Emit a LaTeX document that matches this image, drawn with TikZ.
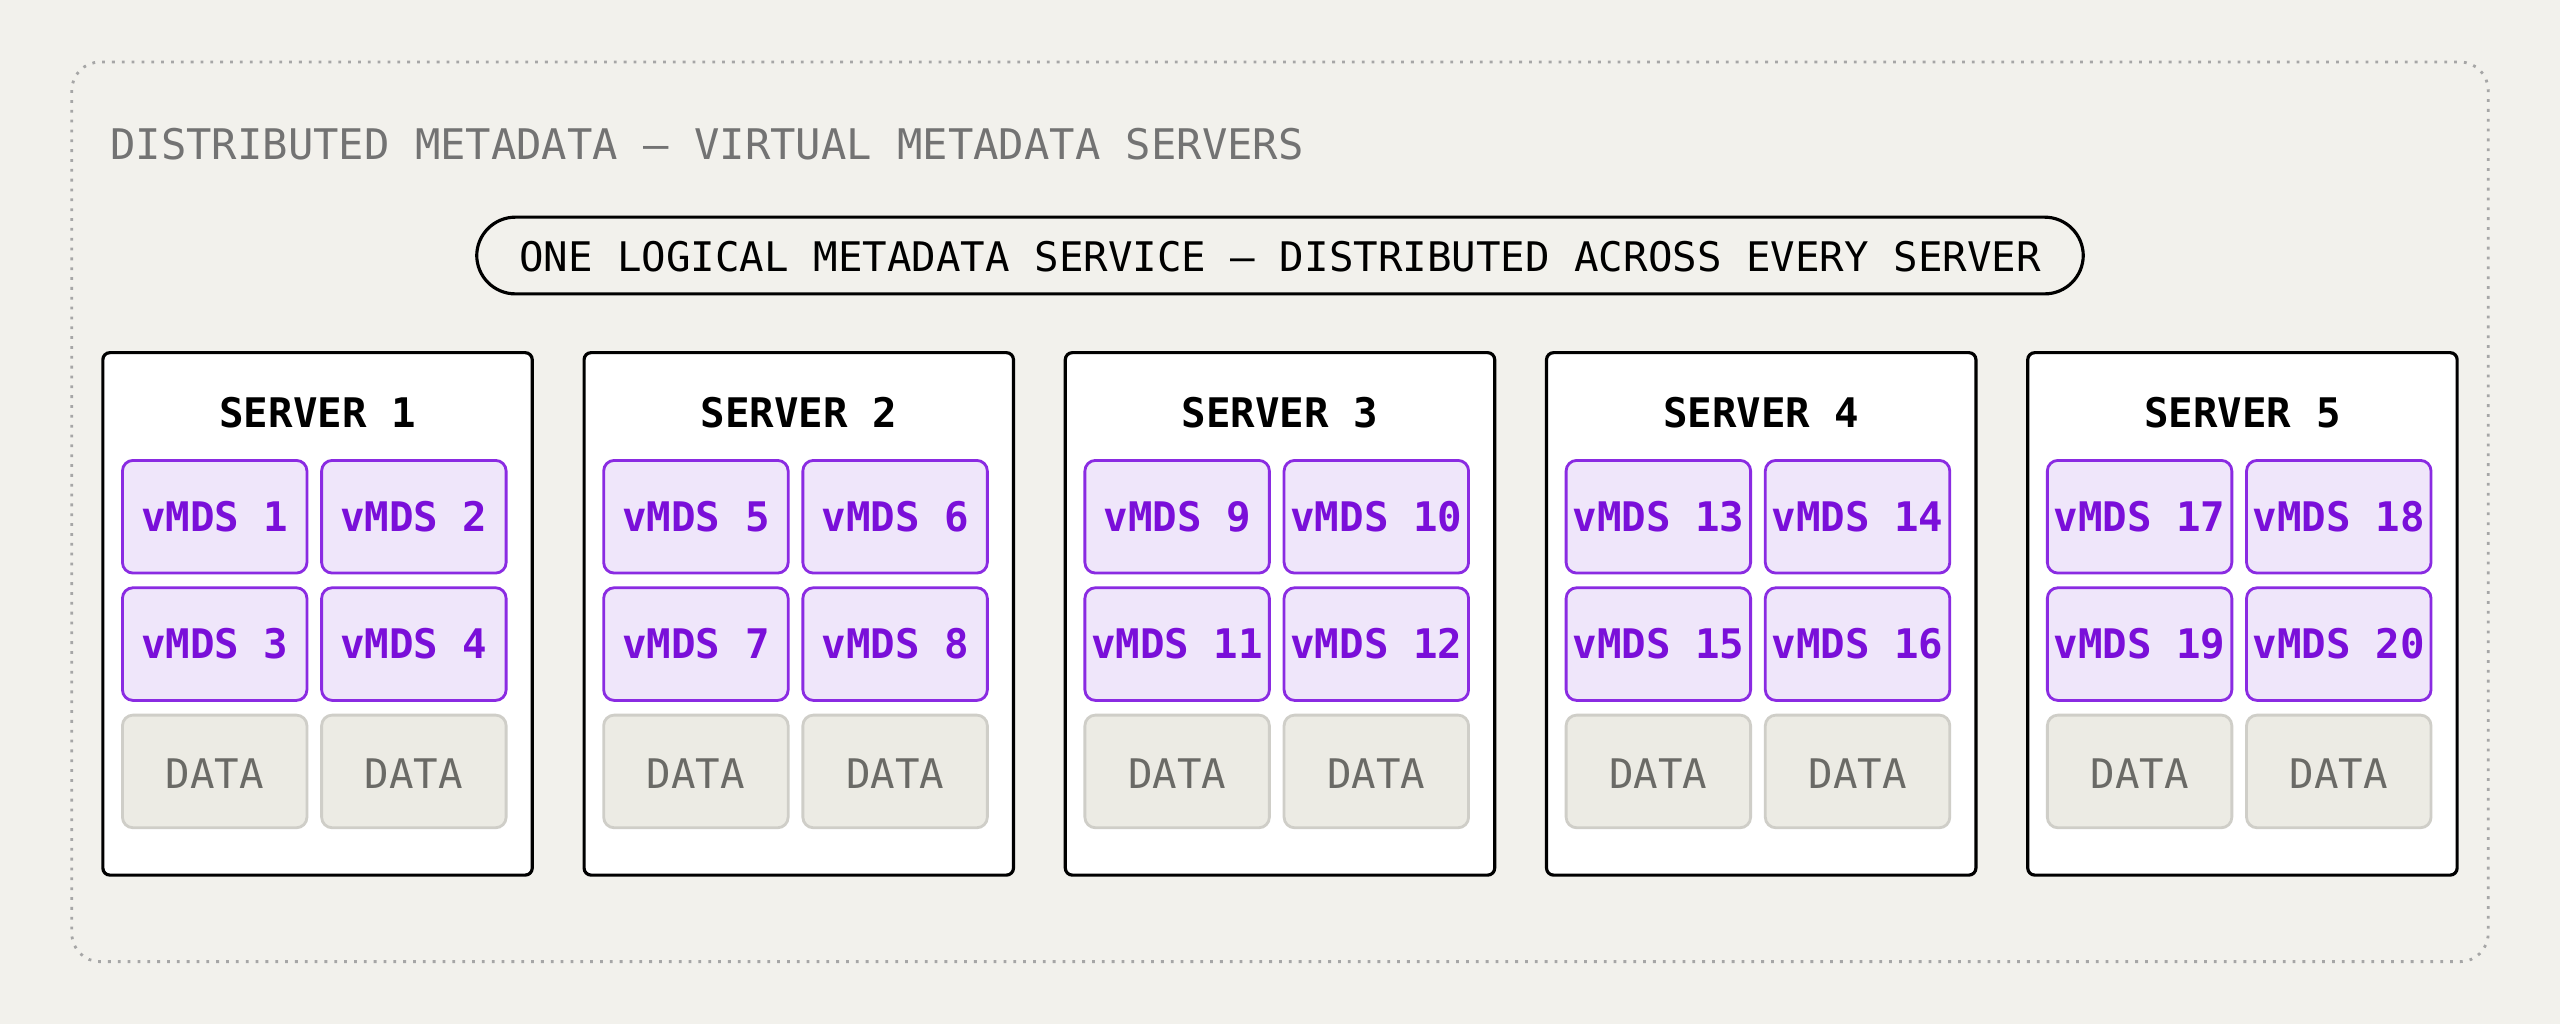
\documentclass[tikz,border=0pt]{standalone}
\usepackage{fontspec}
\setmonofont{DejaVu Sans Mono}
\definecolor{bgcol}{HTML}{F2F1EC}
\definecolor{vfill}{HTML}{EFE6FA}
\definecolor{vline}{HTML}{8A2BE2}
\definecolor{vtext}{HTML}{7A0FD9}
\definecolor{dfill}{HTML}{ECEBE4}
\definecolor{dline}{HTML}{CFCEC8}
\definecolor{dtext}{HTML}{6A6A66}
\tikzset{
  frame/.style={draw=black!35, dotted, line width=0.8pt, rounded corners=8pt},
  server/.style={draw=black, fill=white, line width=0.9pt, rounded corners=2pt},
  vmds/.style={draw=vline, fill=vfill, line width=0.8pt, rounded corners=3pt, text=vtext, font=\ttfamily\bfseries\fontsize{11.6}{13}\selectfont},
  data/.style={draw=dline, fill=dfill, line width=0.8pt, rounded corners=3pt, text=dtext, font=\ttfamily\fontsize{11.6}{13}\selectfont}
}
\begin{document}
\begin{tikzpicture}[x=0.01633cm, y=-0.01633cm]
  \fill[bgcol] (0,0) rectangle (1568,627);
  \useasboundingbox (0,0) rectangle (1568,627);

  %% Outer frame and titles
  \draw[frame] (44,38) rectangle (1524,589);
  \node[anchor=west, text=black!55, font=\ttfamily\fontsize{12}{14}\selectfont] (title) at (60,88) {DISTRIBUTED METADATA — VIRTUAL METADATA SERVERS};
  \draw[line width=0.9pt, rounded corners=11pt] (292,133) rectangle (1276,180);
  \node[font=\ttfamily\fontsize{11.6}{13}\selectfont] (service) at (784,157) {ONE LOGICAL METADATA SERVICE — DISTRIBUTED ACROSS EVERY SERVER};

  %% Servers
  \foreach \s in {1,...,5}{
    \pgfmathsetmacro{\xs}{63+(\s-1)*294.75}
    \draw[server] (\xs,216) rectangle ++(263,320);
    \node[font=\ttfamily\bfseries\fontsize{11.6}{13}\selectfont] (srv\s) at (\xs+131.5,253) {SERVER \s};
    \foreach \r in {0,1}{
      \foreach \c in {0,1}{
        \pgfmathtruncatemacro{\n}{4*(\s-1)+2*\r+\c+1}
        \draw[vmds] (\xs+12+\c*122,282+\r*78) rectangle ++(113,69);
        \node[text=vtext, font=\ttfamily\bfseries\fontsize{11.6}{13}\selectfont] (v\n) at (\xs+68.5+\c*122,316.5+\r*78) {vMDS \n};
      }
    }
    \foreach \c in {0,1}{
      \draw[data] (\xs+12+\c*122,438) rectangle ++(113,69);
      \node[text=dtext, font=\ttfamily\fontsize{11.6}{13}\selectfont] (d\s\c) at (\xs+68.5+\c*122,474) {DATA};
    }
  }
\end{tikzpicture}
\end{document}
